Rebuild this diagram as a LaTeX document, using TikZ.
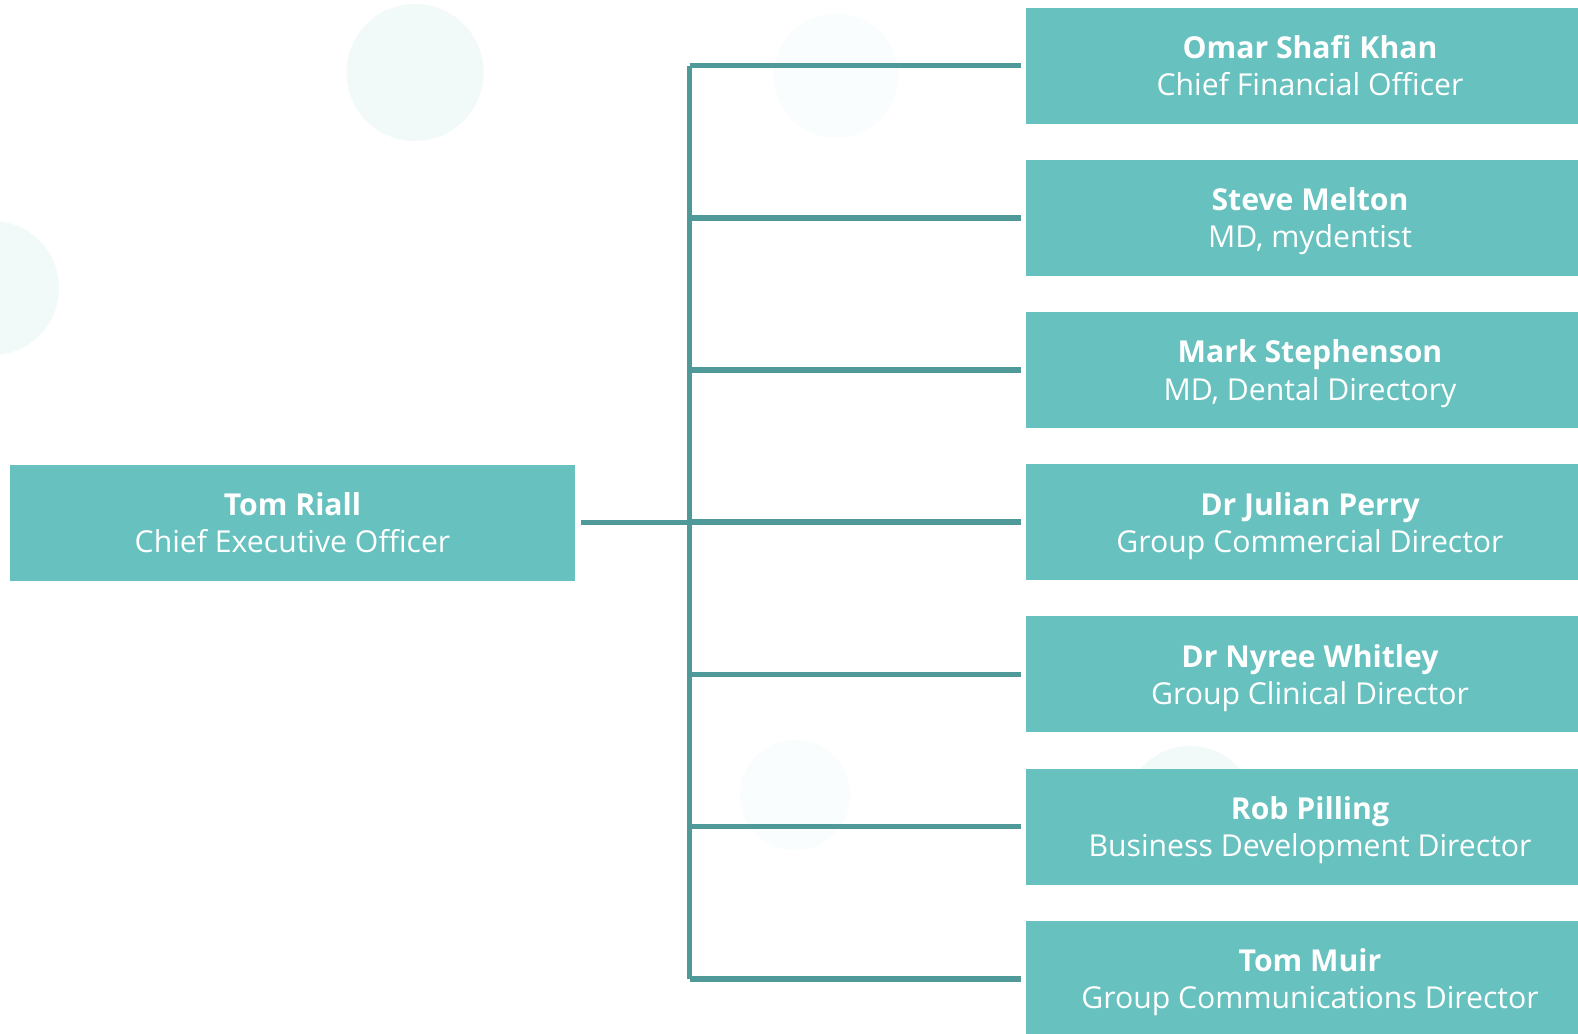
\documentclass[tikz,border=0pt]{standalone}
\usepackage{fontspec}
\setmainfont{Open Sans}
\definecolor{boxfill}{HTML}{67C1BF}
\definecolor{linecol}{HTML}{4F9A98}
\definecolor{ghost}{HTML}{F2F9F9}
\definecolor{ghosttwo}{HTML}{FAFDFD}
\newcommand\ppl[2]{\raisebox{0pt}[23bp][0pt]{\textbf{#1}}\\\raisebox{0pt}[23bp][0pt]{#2}}
\begin{document}
\begin{tikzpicture}[x=1bp,y=-1bp,
  person/.style={fill=boxfill,draw=none,minimum width=568bp,minimum height=116bp,inner sep=0pt,text=white,align=center,font=\fontsize{30.3}{37.5}\selectfont},
  ceo/.style={person,minimum width=565bp},
  link/.style={draw=linecol,line width=5.5bp}]
\useasboundingbox (0,0) rectangle (1578,1033);
\fill[white] (0,0) rectangle (1578,1033);
% faint background circles
\fill[ghost] (415,72.5) circle (68.5);
\fill[ghost] (-8,288) circle (67);
\fill[ghosttwo] (836,75.5) circle (62);
\fill[ghosttwo] (795,795) circle (55);
\fill[ghost] (1190,811) circle (65);
% boxes
\node[ceo] (ceo) at (292.5,522.6) {\ppl{Tom Riall}{Chief Executive Officer}};
\node[person] (p1) at (1310,65.6) {\ppl{Omar Shafi Khan}{Chief Financial Officer}};
\node[person] (p2) at (1310,217.8) {\ppl{Steve Melton}{MD, mydentist}};
\node[person] (p3) at (1310,370.0) {\ppl{Mark Stephenson}{MD, Dental Directory}};
\node[person] (p4) at (1310,522.2) {\ppl{Dr Julian Perry}{Group Commercial Director}};
\node[person] (p5) at (1310,674.4) {\ppl{Dr Nyree Whitley}{Group Clinical Director}};
\node[person] (p6) at (1310,826.6) {\ppl{Rob Pilling}{Business Development Director}};
\node[person] (p7) at (1310,978.8) {\ppl{Tom Muir}{Group Communications Director}};
% connectors
\coordinate (bus) at (689.5,522.6);
\draw[link] ([xshift=5.7bp]ceo.east) -- (bus);
\draw[link] (bus |- p1.west) -- (bus |- p7.west);
\foreach \i in {1,...,7} {
  \draw[link] (bus |- p\i.west) -- ([xshift=-5bp]p\i.west);
}
\end{tikzpicture}
\end{document}
